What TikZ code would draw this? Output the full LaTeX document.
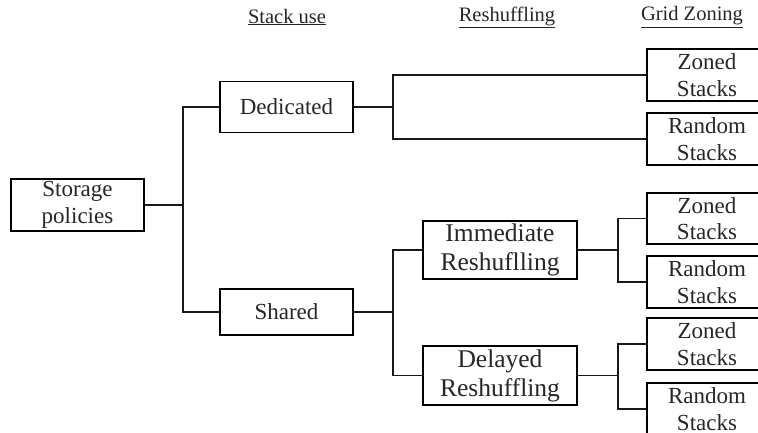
\documentclass[tikz,border=0pt]{standalone}
\usepackage{fontspec}
\setmainfont{Liberation Serif}
\begin{document}
\begin{tikzpicture}[x=1pt,y=-1pt,
  box/.style={draw, line width=1.5pt, rectangle, inner sep=0pt, align=center,
    text=black!85},
  smallbox/.style={box, font=\fontsize{23}{26.5}\selectfont},
  bigbox/.style={box, font=\fontsize{25.5}{29}\selectfont},
  header/.style={font=\fontsize{20.5}{24}\selectfont, text=black!85},
  link/.style={line width=1.5pt, black!90}]
\useasboundingbox (0,0) rectangle (758,433);
\clip (0,0) rectangle (758,433);

% column headers
\node[header] (h1) at (287,17) {\underline{Stack use}};
\node[header] (h2) at (507,17) {\underline{Reshuffling}};
\node[header] (h3) at (692,17) {\underline{Grid Zoning}};

% root
\node[smallbox, minimum width=133pt, minimum height=52pt] (st) at (77.5,205) {Storage\\policies};

% stack use
\node[smallbox, minimum width=133pt, minimum height=51pt] (ded) at (286.5,107) {Dedicated};
\node[smallbox, minimum width=133pt, minimum height=46pt] (sha) at (286.5,312) {Shared};

% reshuffling
\node[bigbox, minimum width=154pt, minimum height=58pt] (imm) at (500,250) {Immediate\\Reshuflling};
\node[bigbox, minimum width=154pt, minimum height=59pt] (del) at (500,375.5) {Delayed\\Reshuffling};

% grid zoning
\node[smallbox, minimum width=120pt, minimum height=52pt] (z1) at (707,75) {Zoned\\Stacks};
\node[smallbox, minimum width=120pt, minimum height=52pt] (r1) at (707,139) {Random\\Stacks};
\node[smallbox, minimum width=120pt, minimum height=51pt] (z2) at (707,218.5) {Zoned\\Stacks};
\node[smallbox, minimum width=120pt, minimum height=52pt] (r2) at (707,282) {Random\\Stacks};
\node[smallbox, minimum width=120pt, minimum height=52pt] (z3) at (707,344) {Zoned\\Stacks};
\node[smallbox, minimum width=120pt, minimum height=52pt] (r3) at (707,409) {Random\\Stacks};

% junction points of the bracket connectors
\coordinate (j1) at (183,205);
\coordinate (j2) at (393,107);
\coordinate (j3) at (393,312);
\coordinate (j4) at (618,250);
\coordinate (j5) at (618,375.5);

\draw[link] (st.east) -- (j1);
\draw[link] (ded.west) -| (j1);
\draw[link] (sha.west) -| (j1);

\draw[link] (ded.east) -- (j2);
\draw[link] (z1.west) -| (j2);
\draw[link] (r1.west) -| (j2);

\draw[link] (sha.east) -- (j3);
\draw[link] (imm.west) -| (j3);
\draw[link] (del.west) -| (j3);

\draw[link] (imm.east) -- (j4);
\draw[link] (z2.west) -| (j4);
\draw[link] (r2.west) -| (j4);

\draw[link] (del.east) -- (j5);
\draw[link] (z3.west) -| (j5);
\draw[link] (r3.west) -| (j5);
\end{tikzpicture}
\end{document}
